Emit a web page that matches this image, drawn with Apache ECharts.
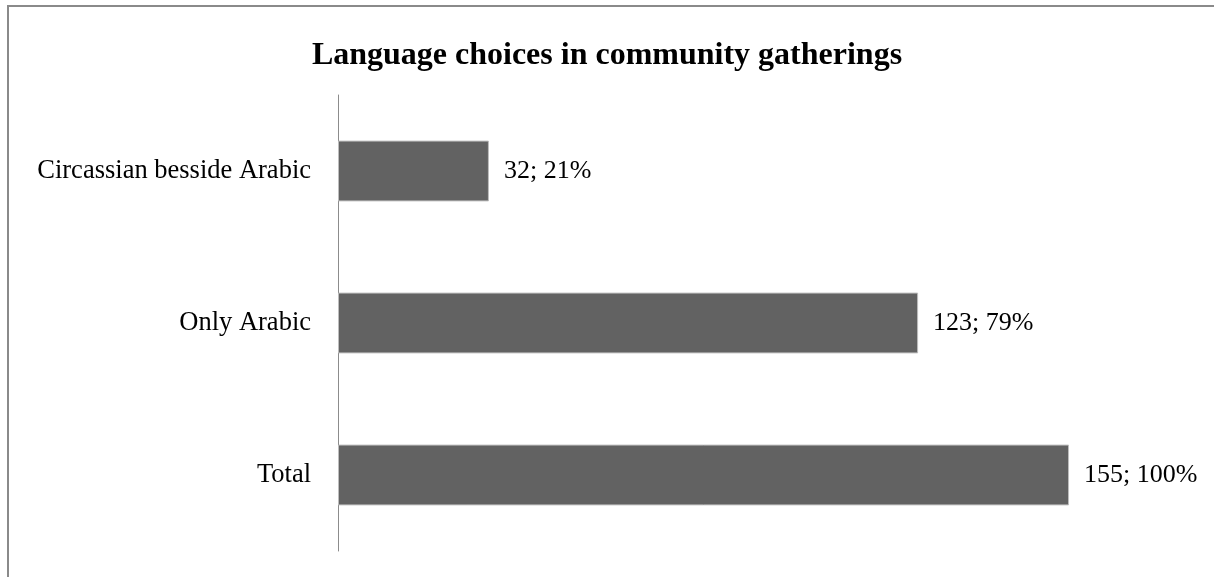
<!DOCTYPE html>
<html>
<head>
<meta charset="utf-8">
<style>
  html, body { margin: 0; padding: 0; background: #ffffff; }
  #chart { width: 1214px; height: 577px; }
</style>
<script src="https://cdn.jsdelivr.net/npm/echarts@6/dist/echarts.min.js"></script>
</head>
<body>
<div id="chart"></div>
<script>
// Categories listed bottom-to-top, as a horizontal bar chart draws them
const categories = ['Total', 'Only Arabic', 'Circassian besside Arabic'];
const counts = [155, 123, 32];
const percents = [100, 79, 21];

const chart = echarts.init(document.getElementById('chart'));
const serif = '"Liberation Serif", "Times New Roman", serif';

chart.setOption({
  animation: false,
  backgroundColor: '#ffffff',
  title: {
    text: 'Language choices in community gatherings',
    left: 'center',
    top: 35,
    textStyle: { fontFamily: serif, fontWeight: 'bold', fontSize: 32, color: '#000000' }
  },
  grid: { left: 338, top: 95, height: 456, width: 754.6, containLabel: false },
  xAxis: {
    type: 'value',
    min: 0,
    max: 160,
    show: false
  },
  yAxis: {
    type: 'category',
    data: categories,
    axisLine: { show: true, lineStyle: { color: '#8c8c8c', width: 1 } },
    axisTick: { show: false },
    axisLabel: { fontFamily: serif, fontSize: 26.5, color: '#000000', margin: 27 }
  },
  series: [{
    type: 'bar',
    data: counts,
    barWidth: '40%',
    itemStyle: { color: '#626262', borderColor: '#bdbdbd', borderWidth: 1 },
    label: {
      show: true,
      position: 'right',
      distance: 15,
      fontFamily: serif,
      fontSize: 26,
      color: '#000000',
      formatter: p => counts[p.dataIndex] + '; ' + percents[p.dataIndex] + '%'
    }
  }],
  graphic: [
    { type: 'line', shape: { x1: 7, y1: 6, x2: 1214, y2: 6 }, style: { stroke: '#8a8a8a', lineWidth: 2 } },
    { type: 'line', shape: { x1: 8, y1: 5, x2: 8, y2: 577 }, style: { stroke: '#8a8a8a', lineWidth: 2 } }
  ]
});
</script>
</body>
</html>
